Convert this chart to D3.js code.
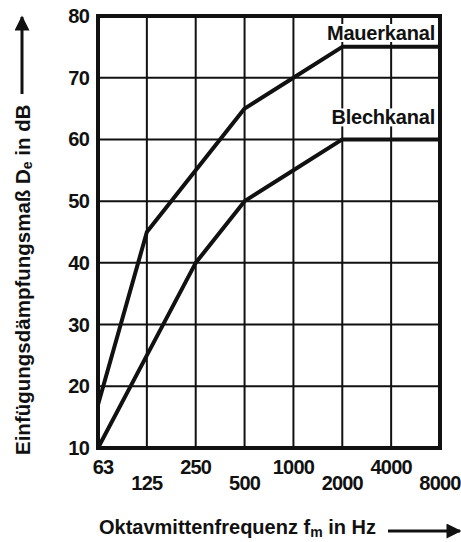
<!DOCTYPE html>
<html>
<head>
<meta charset="utf-8">
<script src="https://cdn.jsdelivr.net/npm/d3@7"></script>
<style>
  body { margin: 0; background: #fff; }
  svg text { font-family: "Liberation Sans", Arial, sans-serif; font-weight: bold; fill: #111; }
</style>
</head>
<body>
<svg id="chart"></svg>
<script>
// octave band centre frequencies (Hz)
var freqs = ["63", "125", "250", "500", "1000", "2000", "4000", "8000"];
// insertion loss in dB
var mauerkanal = [17, 45, 55, 65, 70, 75, 75, 75];
var blechkanal = [10, 25, 40, 50, 55, 60, 60, 60];
var yTicks = [10, 20, 30, 40, 50, 60, 70, 80];

var screen = { width: 461, height: 542 };
var margins = { top: 16, bottom: 94, left: 98, right: 21 };

var graphWidth = screen.width - margins.left - margins.right;
var graphHeight = screen.height - margins.top - margins.bottom;

var svg = d3.select("#chart")
  .attr("width", screen.width)
  .attr("height", screen.height);

var xScale = d3.scalePoint()
  .domain(freqs)
  .range([margins.left, margins.left + graphWidth]);

var yScale = d3.scaleLinear()
  .domain([10, 80])
  .range([margins.top + graphHeight, margins.top]);

// grid
var grid = svg.append("g").attr("stroke", "#111").attr("stroke-width", 2);
grid.selectAll(".vline")
  .data(freqs.slice(1, -1))
  .enter().append("line")
  .attr("x1", function(d) { return xScale(d); })
  .attr("x2", function(d) { return xScale(d); })
  .attr("y1", yScale(80))
  .attr("y2", yScale(10));
grid.selectAll(".hline")
  .data(yTicks.slice(1, -1))
  .enter().append("line")
  .attr("y1", function(d) { return yScale(d); })
  .attr("y2", function(d) { return yScale(d); })
  .attr("x1", xScale("63"))
  .attr("x2", xScale("8000"));

// curves
var line = d3.line()
  .x(function(d, i) { return xScale(freqs[i]); })
  .y(function(d) { return yScale(d); });

[mauerkanal, blechkanal].forEach(function(series) {
  svg.append("path")
    .datum(series)
    .attr("d", line)
    .attr("fill", "none")
    .attr("stroke", "#111")
    .attr("stroke-width", 4)
    .attr("stroke-linejoin", "round");
});

// series labels with white box over the grid
var seriesLabels = [
  { text: "Mauerkanal", value: 80, dy: 17 },
  { text: "Blechkanal", value: 60, dy: -22 }
];
seriesLabels.forEach(function(l) {
  var g = svg.append("g");
  var t = g.append("text")
    .attr("x", xScale("8000") - 5)
    .attr("y", yScale(l.value) + l.dy)
    .attr("text-anchor", "end")
    .attr("dominant-baseline", "central")
    .style("font-size", "20px")
    .style("letter-spacing", "-0.2px")
    .text(l.text);
  var bb = t.node().getBBox();
  g.insert("rect", "text")
    .attr("x", bb.x - 3)
    .attr("y", bb.y + 2)
    .attr("width", bb.width + 4)
    .attr("height", bb.height - 4)
    .attr("fill", "#fff");
});

// frame
svg.append("rect")
  .attr("x", margins.left)
  .attr("y", margins.top)
  .attr("width", graphWidth)
  .attr("height", graphHeight)
  .attr("fill", "none")
  .attr("stroke", "#111")
  .attr("stroke-width", 4);

// y tick labels
svg.selectAll(".ylab")
  .data(yTicks)
  .enter().append("text")
  .attr("x", margins.left - 9)
  .attr("y", function(d) { return yScale(d); })
  .attr("text-anchor", "end")
  .attr("dominant-baseline", "central")
  .style("font-size", "20px")
  .style("letter-spacing", "-0.8px")
  .text(function(d) { return d; });

// x tick labels, staggered
svg.selectAll(".xlab")
  .data(freqs)
  .enter().append("text")
  .attr("x", function(d, i) { return xScale(d) + (i === 0 ? 5 : 0); })
  .attr("y", function(d, i) { return margins.top + graphHeight + (i % 2 === 0 ? 19 : 35); })
  .attr("text-anchor", "middle")
  .attr("dominant-baseline", "central")
  .style("font-size", "20px")
  .style("letter-spacing", "-0.8px")
  .text(function(d) { return d; });

// arrow marker
svg.append("defs").append("marker")
  .attr("id", "arrow")
  .attr("viewBox", "0 0 10 10")
  .attr("refX", 9).attr("refY", 5)
  .attr("markerWidth", 5.5).attr("markerHeight", 5)
  .attr("markerUnits", "strokeWidth")
  .attr("orient", "auto")
  .append("path")
  .attr("d", "M0,0 L10,5 L0,10 z")
  .attr("fill", "#111");

// x axis title
var xt = svg.append("text")
  .attr("x", 99)
  .attr("y", 527)
  .attr("dominant-baseline", "central")
  .style("font-size", "20px")
  .style("letter-spacing", "0px");
xt.append("tspan").text("Oktavmittenfrequenz f");
xt.append("tspan").attr("dy", 5).style("font-size", "14px").text("m");
xt.append("tspan").attr("dy", -5).text(" in Hz");
svg.append("line")
  .attr("x1", 388).attr("x2", 460)
  .attr("y1", 531).attr("y2", 531)
  .attr("stroke", "#111").attr("stroke-width", 3)
  .attr("marker-end", "url(#arrow)");

// y axis title
var yt = svg.append("text")
  .attr("transform", "translate(22,455) rotate(-90)")
  .attr("dominant-baseline", "central")
  .style("font-size", "20.5px")
  .style("letter-spacing", "0px");
yt.append("tspan").text("Einfügungsdämpfungsmaß D");
yt.append("tspan").attr("dy", 5).style("font-size", "14px").text("e");
yt.append("tspan").attr("dy", -5).text(" in dB");
svg.append("line")
  .attr("x1", 22).attr("x2", 22)
  .attr("y1", 94).attr("y2", 17)
  .attr("stroke", "#111").attr("stroke-width", 3)
  .attr("marker-end", "url(#arrow)");
</script>
</body>
</html>
